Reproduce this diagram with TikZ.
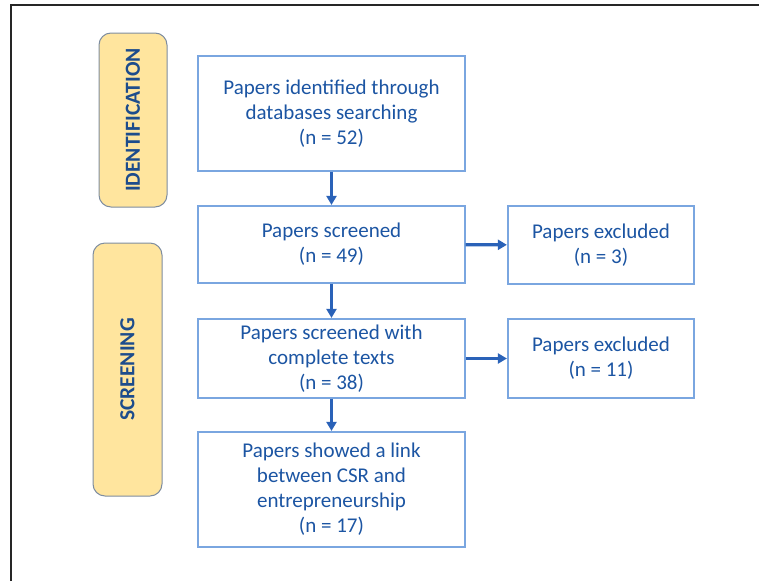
\documentclass[tikz,border=0pt]{standalone}
\usepackage{fontspec}
\setmainfont{Carlito}
\usetikzlibrary{arrows.meta}
\definecolor{boxline}{HTML}{7AA6E0}
\definecolor{boxtext}{HTML}{1C55A3}
\definecolor{flowblue}{HTML}{2A62B8}
\definecolor{phasefill}{HTML}{FFE59E}
\definecolor{phaseline}{HTML}{7E8DA0}
\definecolor{phasetext}{HTML}{1D4C8C}
\tikzset{
  stepbox/.style={draw=boxline, line width=1.2pt, fill=white, align=center,
    text=boxtext, font=\fontsize{21}{25}\selectfont, inner sep=0pt},
  phase/.style={draw=phaseline, line width=1pt, fill=phasefill, rounded corners=12pt,
    rotate=90, text=phasetext, font=\fontsize{21.5}{24}\bfseries\selectfont, inner sep=0pt},
  flow/.style={draw=flowblue, line width=3.2pt,
    -{Triangle[length=9pt,width=10pt]}, shorten >=0.5pt},
}
\begin{document}
\begin{tikzpicture}[x=1pt,y=-1pt]
\useasboundingbox (0,0) rectangle (759,581);
% frame on the top and left edges
\draw[line width=2pt, black!85] (11,581) -- (11,5) -- (759,5);

% phase labels
\node[phase, minimum width=174pt, minimum height=68pt] (lblid) at (133,120) {IDENTIFICATION};
\node[phase, minimum width=253pt, minimum height=69pt] (lblscr) at (127.5,369.5) {SCREENING};

% flow boxes
\node[stepbox, minimum width=267pt, minimum height=115pt] (ident) at (331.5,113.5)
  {Papers identified through\\databases searching\\(n = 52)};
\node[stepbox, minimum width=267pt, minimum height=77pt] (screen) at (331.5,244.5)
  {Papers screened\\(n = 49)};
\node[stepbox, minimum width=186pt, minimum height=78pt] (excl1) at (601,245)
  {Papers excluded\\(n = 3)};
\node[stepbox, minimum width=267pt, minimum height=79pt] (full) at (331.5,358.5)
  {Papers screened with\\complete texts\\(n = 38)};
\node[stepbox, minimum width=186pt, minimum height=79pt] (excl2) at (601,358.5)
  {Papers excluded\\(n = 11)};
\node[stepbox, minimum width=267pt, minimum height=115pt] (link) at (331.5,489.5)
  {Papers showed a link\\between CSR and\\entrepreneurship\\(n = 17)};

% connectors
\draw[flow] (ident) -- (screen);
\draw[flow] (screen) -- (full);
\draw[flow] (full) -- (link);
\draw[flow] (screen) -- (excl1);
\draw[flow] (full) -- (excl2);
\end{tikzpicture}
\end{document}
